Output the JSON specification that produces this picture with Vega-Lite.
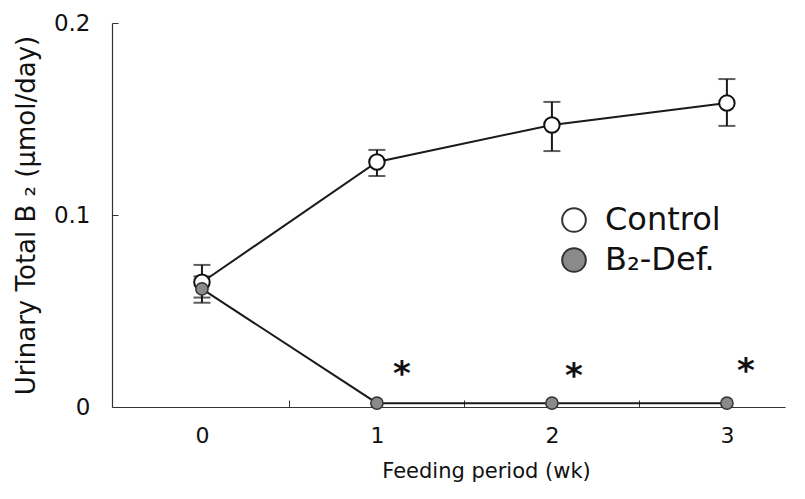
{
  "$schema": "https://vega.github.io/schema/vega-lite/v6.json",
  "width": 673,
  "height": 384,
  "autosize": "none",
  "padding": {"left": 112, "top": 23, "right": 20, "bottom": 92},
  "background": "#ffffff",
  "config": {
    "view": {"stroke": null},
    "font": "DejaVu Sans",
    "axis": {
      "grid": false,
      "domainColor": "#333333",
      "domainWidth": 1.2,
      "tickColor": "#333333",
      "labelColor": "#111111",
      "titleColor": "#111111",
      "titleFontWeight": "normal"
    }
  },
  "data": {
    "values": [
      {"week": 0, "value": 0.065, "lo": 0.057, "hi": 0.074, "group": "Control"},
      {"week": 1, "value": 0.1276, "lo": 0.1203, "hi": 0.1339, "group": "Control"},
      {"week": 2, "value": 0.1469, "lo": 0.1333, "hi": 0.1589, "group": "Control"},
      {"week": 3, "value": 0.1583, "lo": 0.1464, "hi": 0.1708, "group": "Control"},
      {"week": 0, "value": 0.0615, "lo": 0.0543, "hi": 0.068, "group": "B₂-Def."},
      {"week": 1, "value": 0.002, "group": "B₂-Def."},
      {"week": 2, "value": 0.002, "group": "B₂-Def."},
      {"week": 3, "value": 0.002, "group": "B₂-Def."}
    ]
  },
  "encoding": {
    "x": {
      "field": "week",
      "type": "quantitative",
      "scale": {"domain": [-0.514, 3.332], "nice": false, "zero": false},
      "axis": {
        "values": [0, 0.5, 1, 1.5, 2, 2.5, 3],
        "labelExpr": "datum.value % 1 === 0 ? format(datum.value, 'd') : ''",
        "tickOpacity": {"condition": {"test": "datum.value % 1 === 0", "value": 0}, "value": 1},
        "tickSize": -7,
        "labelFontSize": 22,
        "labelPadding": 25,
        "title": "Feeding period (wk)",
        "titleFontSize": 21,
        "titleAnchor": null,
        "titleX": 374,
        "titleY": 64,
        "titleBaseline": "middle"
      }
    },
    "y": {
      "field": "value",
      "type": "quantitative",
      "scale": {"domain": [0, 0.2], "nice": false},
      "axis": {
        "values": [0, 0.1, 0.2],
        "labelExpr": "datum.value === 0 ? '0' : format(datum.value, '.1f')",
        "tickSize": -6,
        "labelFontSize": 23,
        "labelPadding": 28,
        "title": "Urinary Total B ₂ (μmol/day)",
        "titleFontSize": 26,
        "titleAnchor": null,
        "titleAngle": -90,
        "titleX": -86,
        "titleY": 192,
        "titleBaseline": "middle"
      }
    }
  },
  "layer": [
    {
      "mark": {"type": "line", "color": "#1a1a1a", "strokeWidth": 2},
      "encoding": {"detail": {"field": "group"}}
    },
    {
      "transform": [{"filter": "isValid(datum.lo)"}],
      "mark": {"type": "rule", "color": "#1a1a1a", "strokeWidth": 2},
      "encoding": {"y": {"field": "lo", "type": "quantitative"}, "y2": {"field": "hi"}}
    },
    {
      "transform": [{"filter": "isValid(datum.lo)"}],
      "mark": {"type": "tick", "orient": "horizontal", "color": "#1a1a1a", "size": 17, "thickness": 2},
      "encoding": {"y": {"field": "lo", "type": "quantitative"}}
    },
    {
      "transform": [{"filter": "isValid(datum.hi)"}],
      "mark": {"type": "tick", "orient": "horizontal", "color": "#1a1a1a", "size": 17, "thickness": 2},
      "encoding": {"y": {"field": "hi", "type": "quantitative"}}
    },
    {
      "transform": [{"filter": "datum.group === 'Control'"}],
      "mark": {"type": "point", "filled": true, "shape": "circle", "size": 240, "stroke": "#111111", "strokeWidth": 2, "opacity": 1},
      "encoding": {
        "fill": {
          "field": "group",
          "type": "nominal",
          "scale": {"domain": ["Control", "B₂-Def."], "range": ["#ffffff", "#8a8a8a"]},
          "legend": {
            "title": null,
            "orient": "none",
            "legendX": 446,
            "legendY": 181,
            "symbolType": "circle",
            "symbolSize": 560,
            "symbolStrokeColor": "#111111",
            "symbolStrokeWidth": 2,
            "symbolOpacity": 1,
            "labelFontSize": 32,
            "labelColor": "#111111",
            "labelOffset": 15,
            "rowPadding": 8
          }
        }
      }
    },
    {
      "transform": [{"filter": "datum.group !== 'Control'"}],
      "mark": {"type": "point", "filled": true, "shape": "circle", "size": 150, "stroke": "#333333", "strokeWidth": 1.5, "opacity": 1},
      "encoding": {"fill": {"field": "group", "type": "nominal"}}
    },
    {
      "data": {
        "values": [
          {"week": 1.143, "value": 0.0208, "sig": "*"},
          {"week": 2.126, "value": 0.0198, "sig": "*"},
          {"week": 3.109, "value": 0.0224, "sig": "*"}
        ]
      },
      "mark": {"type": "text", "fontSize": 34, "fontWeight": "bold", "baseline": "middle", "dy": 8, "color": "#111111"},
      "encoding": {"text": {"field": "sig"}}
    }
  ]
}
